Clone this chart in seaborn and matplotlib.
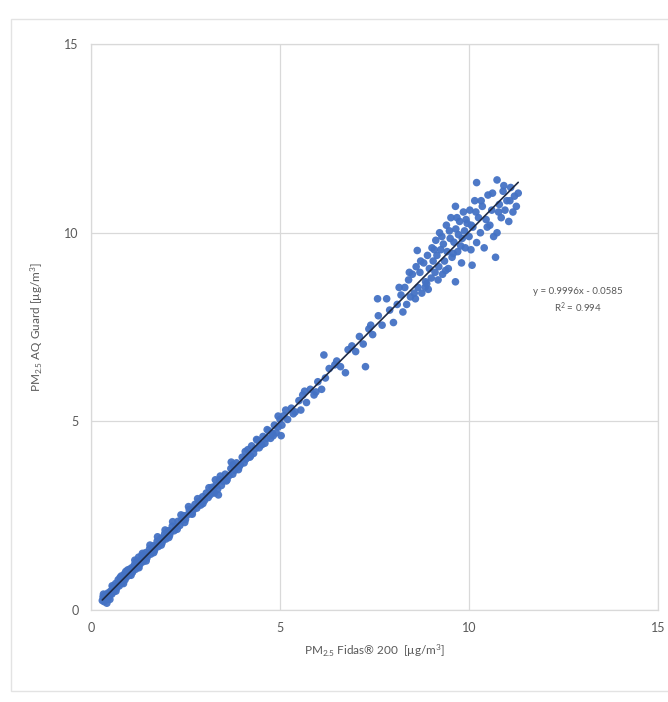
"""
Scatter of PM2.5 AQ Guard vs Fidas 200 with linear trend line.
"""

import matplotlib
matplotlib.use("Agg")
import matplotlib.pyplot as plt
import seaborn as sns
import pandas as pd
from matplotlib.patches import Rectangle

# Fidas 200 readings (x) and AQ Guard readings (y)
fidas = [
    0.30, 0.32, 0.35, 0.38, 0.40, 0.42, 0.45, 0.48, 0.50, 0.52, 0.55, 0.58, 0.60, 0.62, 0.65,
    0.68, 0.70, 0.72, 0.75, 0.78, 0.80, 0.82, 0.85, 0.88, 0.90, 0.92, 0.95, 0.98, 1.00, 1.02,
    1.05, 1.08, 1.10, 1.15, 1.18, 1.20, 1.25, 1.26, 1.28, 1.30, 1.35, 1.38, 1.40, 1.45, 1.48,
    1.50, 1.55, 1.58, 1.60, 1.65, 1.68, 1.70, 1.75, 1.78, 1.80, 1.85, 1.88, 1.90, 1.95, 1.98,
    2.00, 2.05, 2.08, 2.10, 2.15, 2.20, 2.25, 2.30, 2.35, 2.40, 2.45, 2.50, 2.55, 2.60, 2.65,
    2.70, 2.75, 2.80, 2.85, 2.90, 2.95, 3.00, 3.05, 3.10, 3.15, 3.20, 3.25, 3.29, 3.30, 3.35,
    3.37, 3.40, 3.45, 3.50, 3.55, 3.60, 3.65, 3.70, 3.71, 3.75, 3.80, 3.85, 3.90, 3.95, 4.00,
    4.05, 4.10, 4.15, 4.20, 4.25, 4.30, 4.35, 4.40, 4.45, 4.50, 4.55, 4.60, 4.65, 4.70, 4.75,
    4.80, 4.85, 4.90, 4.95, 4.95, 5.00, 5.03, 5.05, 5.10, 5.20, 5.30, 5.40, 5.50, 5.55, 5.60,
    5.70, 5.80, 5.90, 6.00, 6.10, 6.16, 6.30, 6.50, 6.60, 6.73, 6.80, 6.90, 7.00, 7.10, 7.20,
    7.26, 7.35, 7.45, 7.58, 7.60, 7.70, 7.82, 7.90, 8.00, 8.10, 8.20, 8.25, 8.30, 8.35, 8.40,
    8.45, 8.50, 8.55, 8.60, 8.63, 8.65, 8.70, 8.75, 8.80, 8.84, 8.85, 8.90, 8.92, 8.95, 9.00,
    9.02, 9.05, 9.10, 9.12, 9.15, 9.20, 9.22, 9.25, 9.30, 9.32, 9.35, 9.40, 9.42, 9.45, 9.50,
    9.52, 9.55, 9.60, 9.64, 9.64, 9.65, 9.70, 9.72, 9.75, 9.80, 9.82, 9.85, 9.88, 9.90, 9.95,
    10.00, 10.02, 10.05, 10.08, 10.10, 10.15, 10.20, 10.20, 10.25, 10.30, 10.35, 10.40, 10.45,
    10.50, 10.55, 10.60, 10.65, 10.70, 10.74, 10.74, 10.80, 10.85, 10.90, 10.95, 11.00, 11.05,
    11.10, 11.16, 11.20, 11.25, 11.30,
    # second pass over the dense low / mid band and the upper cloud
    0.33, 0.44, 0.56, 0.66, 0.77, 0.86, 0.97, 1.06, 1.16, 1.27, 1.36, 1.46, 1.56, 1.66, 1.76,
    1.86, 1.96, 2.06, 2.16, 2.28, 2.38, 2.48, 2.58, 2.68, 2.82, 2.96, 3.12, 3.26, 3.42, 3.58,
    3.76, 3.92, 4.08, 4.22, 4.38, 4.52, 4.66, 4.82, 5.15, 5.35, 5.65, 5.95, 6.20, 6.45, 7.40,
    8.15, 8.42, 8.58, 8.72, 8.88, 9.08, 9.18, 9.28, 9.38, 9.48, 9.58, 9.68, 9.78, 9.92, 10.06,
    10.18, 10.32, 10.48, 10.62, 10.78, 10.92, 11.08,
]
aqguard = [
    0.25, 0.35, 0.22, 0.40, 0.30, 0.18, 0.45, 0.36, 0.28, 0.50, 0.42, 0.60, 0.48, 0.55, 0.70,
    0.58, 0.66, 0.80, 0.64, 0.74, 0.90, 0.72, 0.85, 0.95, 0.80, 1.02, 0.88, 1.00, 0.92, 1.08,
    0.96, 1.12, 1.00, 1.20, 1.08, 1.28, 1.15, 1.40, 1.30, 1.22, 1.45, 1.28, 1.40, 1.52, 1.38,
    1.46, 1.62, 1.48, 1.55, 1.70, 1.58, 1.66, 1.82, 1.68, 1.76, 1.90, 1.78, 1.86, 2.02, 1.88,
    1.96, 2.10, 1.98, 2.06, 2.22, 2.10, 2.20, 2.35, 2.24, 2.38, 2.50, 2.40, 2.52, 2.66, 2.55,
    2.64, 2.80, 2.70, 2.88, 2.78, 3.00, 2.90, 3.10, 2.98, 3.05, 3.25, 3.12, 3.45, 3.30, 3.20,
    3.05, 3.45, 3.30, 3.42, 3.60, 3.45, 3.56, 3.75, 3.92, 3.60, 3.70, 3.90, 3.72, 3.85, 4.05,
    3.90, 4.00, 4.25, 4.05, 4.35, 4.15, 4.28, 4.50, 4.30, 4.40, 4.60, 4.42, 4.55, 4.75, 4.55,
    4.68, 4.90, 4.70, 4.85, 5.14, 5.05, 4.62, 4.90, 5.15, 5.05, 5.35, 5.25, 5.55, 5.30, 5.70,
    5.50, 5.85, 5.70, 6.05, 5.85, 6.76, 6.40, 6.60, 6.45, 6.29, 6.90, 7.00, 6.85, 7.25, 7.05,
    6.45, 7.45, 7.30, 8.25, 7.80, 7.55, 8.25, 7.95, 7.62, 8.10, 8.35, 7.90, 8.55, 8.10, 8.75,
    8.30, 8.90, 8.40, 9.10, 9.53, 8.55, 8.95, 8.40, 9.20, 8.56, 8.70, 9.40, 8.50, 9.05, 8.80,
    9.60, 9.25, 8.95, 9.80, 9.40, 9.10, 10.00, 9.55, 8.90, 9.70, 9.25, 10.20, 9.50, 9.05, 9.85,
    10.40, 9.35, 9.75, 10.70, 8.70, 10.10, 9.50, 9.95, 10.30, 9.20, 9.85, 10.55, 10.05, 9.60, 10.25,
    9.90, 10.60, 9.55, 9.14, 10.15, 10.85, 9.74, 11.33, 10.40, 10.00, 10.70, 9.60, 10.35,
    11.00, 10.20, 10.60, 9.90, 9.35, 10.00, 11.40, 10.75, 10.40, 11.10, 10.60, 10.85, 10.30,
    11.20, 10.55, 10.97, 10.70, 11.05,
    0.42, 0.30, 0.64, 0.50, 0.86, 0.70, 1.06, 0.92, 1.32, 1.12, 1.50, 1.30, 1.72, 1.52, 1.94,
    1.72, 2.12, 1.92, 2.34, 2.14, 2.52, 2.32, 2.74, 2.54, 2.95, 2.82, 3.24, 3.10, 3.55, 3.42,
    3.85, 3.80, 4.20, 4.08, 4.52, 4.38, 4.78, 4.62, 5.30, 5.20, 5.80, 5.78, 6.15, 6.50, 7.55,
    8.55, 8.95, 8.25, 9.25, 8.65, 9.55, 8.75, 9.90, 9.00, 10.05, 9.45, 10.40, 9.65, 10.35, 10.20,
    10.55, 10.85, 10.15, 11.05, 10.55, 11.25, 10.85,
]

x_ticks = [0, 5, 10, 15]
y_ticks = [0, 5, 10, 15]
fit_text = "y = 0.9996x - 0.0585\nR$^\\mathregular{2}$ = 0.994"

POINT_COLOR = "#4472C4"
GRID_COLOR = "#D9D9D9"
TEXT_COLOR = "#595959"

sns.set_theme(style="white")
plt.rcParams["font.family"] = ["Lato", "DejaVu Sans"]
plt.rcParams["mathtext.default"] = "regular"

df = pd.DataFrame({"fidas": fidas, "aqguard": aqguard})

fig = plt.figure(figsize=(6.68, 7.02), dpi=100)
ax = fig.add_axes([0.1362, 0.1311, 0.849, 0.806])

# light chart frame like the Excel chart border
fig.patches.append(Rectangle((0.016, 0.015), 0.985, 0.958, transform=fig.transFigure,
                             fill=False, edgecolor="#E3E3E3", linewidth=1.0))

sns.scatterplot(data=df, x="fidas", y="aqguard", ax=ax, color=POINT_COLOR,
                s=30, edgecolor="none", alpha=0.95, zorder=3)
sns.regplot(data=df, x="fidas", y="aqguard", ax=ax, scatter=False, ci=None,
            truncate=True, line_kws={"color": "#1F2A44", "linewidth": 1.2, "zorder": 4})

ax.set_xlim(0, 15)
ax.set_ylim(0, 15)
ax.set_xticks(x_ticks)
ax.set_yticks(y_ticks)
ax.grid(True, color=GRID_COLOR, linewidth=0.9)
ax.set_axisbelow(True)
for spine in ax.spines.values():
    spine.set_color(GRID_COLOR)
    spine.set_linewidth(0.9)
ax.tick_params(axis="both", length=0, labelsize=9, colors=TEXT_COLOR, pad=9)

ax.set_xlabel("PM$_{2.5}$ Fidas\u00ae 200  [\u00b5g/m$^{3}$]", fontsize=8.5,
              color=TEXT_COLOR, labelpad=6)
ax.set_ylabel("PM$_{2.5}$ AQ Guard [\u00b5g/m$^{3}$]", fontsize=8.5,
              color=TEXT_COLOR, labelpad=14)

ax.text(12.87, 8.2, fit_text, ha="center", va="center", fontsize=7,
        color=TEXT_COLOR, linespacing=1.4)

fig.savefig("out.png", dpi=100, facecolor="white")
plt.close(fig)
